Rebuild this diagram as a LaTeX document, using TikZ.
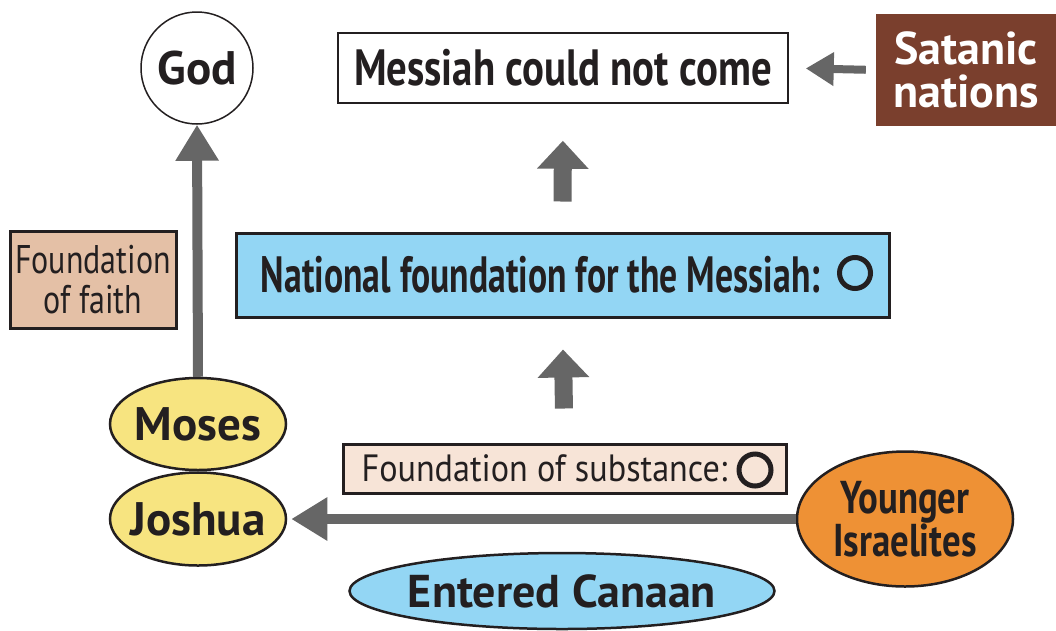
\documentclass[tikz,border=0pt]{standalone}
\usepackage{fontspec}
\setmainfont{PT Sans}
\newfontfamily\widefont{PT Sans}
\newfontfamily\condfont[FakeStretch=0.8]{PT Sans}
\newfontfamily\narrowfont[FakeStretch=0.7]{PT Sans}
\newfontfamily\semifont[FakeStretch=0.9]{PT Sans}
\usetikzlibrary{arrows.meta,shapes.geometric}

\definecolor{ink}{HTML}{231F20}
\definecolor{arrowgray}{HTML}{666666}
\definecolor{satanbrown}{HTML}{7A3F2D}
\definecolor{skyblue}{HTML}{93D6F4}
\definecolor{faithtan}{HTML}{E4C0A6}
\definecolor{substpink}{HTML}{F7E4D7}
\definecolor{peopleyellow}{HTML}{F7E480}
\definecolor{youngorange}{HTML}{EE9135}

\begin{document}
\begin{tikzpicture}[x=1pt, y=-1pt,
    widebold/.style={font=\fontsize{47}{43}\selectfont\widefont\bfseries, text=ink},
    condbold/.style={font=\fontsize{46}{43}\selectfont\condfont\bfseries, text=ink},
    box/.style={draw=ink, rectangle, inner sep=0pt, align=center},
    oval/.style={draw=ink, ellipse, inner sep=-20pt, line width=2.5pt, align=center},
    ring/.style={circle, draw=ink, line width=5pt, minimum size=31pt, inner sep=0pt},
    fatarrow/.style={draw=arrowgray, line width=10pt, -{Triangle[length=36pt, width=41pt]}},
    blockarrow/.style={draw=arrowgray, line width=18pt, -{Triangle[length=28pt, width=50pt]}}]

    \useasboundingbox (0,0) rectangle (1056,630);

    % Top row
    \node[circle, draw=ink, line width=1.5pt, minimum size=112pt, inner sep=0pt, widebold] (god) at (197,68) {God};
    \node[box, line width=1.5pt, minimum width=450pt, minimum height=70pt, font=\fontsize{51}{43}\selectfont\condfont\bfseries, text=ink] (messiah) at (563,68) {Messiah could not come};
    \node[box, draw=none, fill=satanbrown, minimum width=180pt, minimum height=112pt, font=\fontsize{46}{43}\selectfont\widefont\bfseries, text=white] (satanic) at (966,70) {Satanic\\nations};

    % Middle
    \node[box, line width=3pt, fill=skyblue, minimum width=653pt, minimum height=84pt, font=\fontsize{51}{43}\selectfont\narrowfont\bfseries, text=ink] (national) at (562.5,275) {National foundation for the Messiah:\hspace{44pt}};
    \node[ring] (nationalring) at (855,273) {};
    \node[box, line width=3pt, fill=faithtan, minimum width=166pt, minimum height=97pt, font=\fontsize{40}{40}\selectfont\condfont, text=ink] (faith) at (93,279.5) {Foundation\\of faith};

    % Bottom
    \node[oval, fill=peopleyellow, minimum width=176pt, minimum height=92pt, widebold] (moses) at (198,424) {Moses};
    \node[oval, fill=peopleyellow, minimum width=176pt, minimum height=93pt, widebold] (joshua) at (198,519) {Joshua};
    \node[box, line width=3pt, fill=substpink, minimum width=443pt, minimum height=49pt, font=\fontsize{38}{40}\selectfont\semifont, text=ink] (substance) at (564.5,468.5) {Foundation of substance:\hspace{40pt}};
    \node[ring, minimum size=32pt] (substancering) at (755,470) {};
    \node[oval, fill=youngorange, minimum width=216pt, minimum height=135pt, condbold] (younger) at (905,519) {Younger\\Israelites};
    \node[oval, fill=skyblue, minimum width=425pt, minimum height=76pt, font=\fontsize{46}{43}\selectfont\widefont\bfseries, text=ink] (canaan) at (562,591) {Entered Canaan};

    % Arrows
    \draw[fatarrow] (moses.north) -- (god.south);
    \draw[fatarrow, shorten >=4pt] (younger.west) -- (joshua.east);
    \draw[draw=arrowgray, line width=8pt, -{Triangle[length=28pt, width=32pt]}, shorten <=10pt, shorten >=17pt] (satanic.west) -- (messiah.east);
    \draw[blockarrow, shorten <=30pt, shorten >=37pt] (national.north) -- (messiah.south);
    \draw[blockarrow, shorten <=34pt, shorten >=31pt] (substance.north) -- (national.south);
\end{tikzpicture}
\end{document}
